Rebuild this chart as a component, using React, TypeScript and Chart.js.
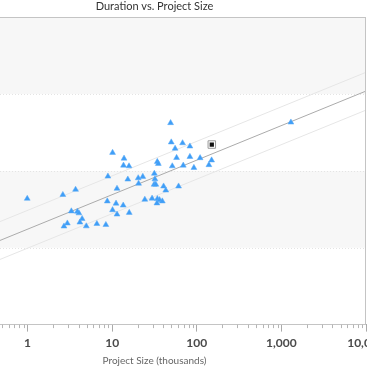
import React, { useEffect, useRef } from "react";
import { Chart, registerables } from "chart.js";

Chart.register(...registerables);

const chartTitle = "Duration vs. Project Size";
const xAxisTitle = "Project Size (thousands)";

const xTickValues = [0.1, 1, 10, 100, 1000, 10000];
const xTickLabels = ["0.1", "1", "10", "100", "1,000", "10,000"];
const yBandEdges = [1, 10, 100, 1000, 10000];

const projectSize = [
  0.99, 2.61, 3.69, 3.29, 3.87, 4.04, 4.41, 4.15, 2.95, 2.69,
  4.94, 6.59, 8.42, 8.75, 11.1, 13.5, 10.1, 11.4, 15.9, 11.4,
  8.9, 10.1, 13.8, 13.6, 15.8, 15.3, 20.3, 23.0, 20.5, 24.3,
  29.6, 34.2, 36.3, 39.1, 33.8, 31.5, 32.0, 31.3, 32.8, 40.5,
  43.0, 60.9, 34.1, 35.1, 49.0, 49.9, 67.9, 55.4, 57.7, 51.3,
  69.2, 82.9, 82.9, 109.4, 149.6, 139.0, 92.4, 1295,
];
const duration = [
  43.6, 48.9, 57.1, 29.9, 29.6, 28.2, 23.8, 21.4, 20.8, 19.0,
  19.1, 20.5, 19.9, 40.3, 37.7, 35.6, 31.0, 27.2, 28.6, 58.9,
  84.9, 172.6, 145.2, 117.8, 115.4, 77.6, 80.7, 84.1, 68.5, 42.4,
  43.8, 43.3, 41.9, 40.3, 38.0, 92.3, 78.1, 66.5, 66.5, 63.0,
  55.9, 63.0, 131.5, 124.0, 420.8, 236.0, 230.3, 195.5, 148.2, 115.4,
  117.8, 208.9, 152.7, 147.3, 137.6, 119.6, 110.0, 428.3,
];

const highlightSize = [150.4];
const highlightDuration = [220.3];

const fitSize = [0.1, 10000];
const fitDuration = [6.2, 1094];
const upperDuration = [10.9, 1919];
const lowerDuration = [3.51, 618];

const minorMultipliers = [2, 3, 4, 5, 6, 7, 8, 9];

const bandsPlugin = {
  id: "bands",
  beforeDatasetsDraw(chart: any) {
    const { ctx, chartArea, scales } = chart;
    const y = scales.y;
    ctx.save();
    ctx.fillStyle = "#ffffff";
    ctx.fillRect(chartArea.left, chartArea.top, chartArea.right - chartArea.left, chartArea.bottom - chartArea.top);
    for (let i = 0; i < yBandEdges.length - 1; i++) {
      const yTop = y.getPixelForValue(yBandEdges[i + 1]);
      const yBot = y.getPixelForValue(yBandEdges[i]);
      if (i % 2 === 1) {
        ctx.fillStyle = "#f7f7f7";
        ctx.fillRect(chartArea.left, yTop, chartArea.right - chartArea.left, yBot - yTop);
      }
    }
    ctx.strokeStyle = "#e4e4e4";
    ctx.lineWidth = 1;
    ctx.setLineDash([1, 2]);
    for (let i = 1; i < yBandEdges.length - 1; i++) {
      const py = Math.round(y.getPixelForValue(yBandEdges[i])) + 0.5;
      ctx.beginPath();
      ctx.moveTo(chartArea.left, py);
      ctx.lineTo(chartArea.right, py);
      ctx.stroke();
    }
    ctx.restore();
  },
  afterDraw(chart: any) {
    const { ctx, chartArea, scales } = chart;
    const x = scales.x;
    ctx.save();
    ctx.strokeStyle = "#c4c4c4";
    ctx.lineWidth = 1;
    ctx.strokeRect(
      Math.round(chartArea.left) + 0.5,
      Math.round(chartArea.top) + 0.5,
      Math.round(chartArea.right - chartArea.left) - 1,
      Math.round(chartArea.bottom - chartArea.top)
    );
    ctx.strokeStyle = "#b5b5b5";
    for (let d = 0; d < xTickValues.length - 1; d++) {
      for (const m of minorMultipliers) {
        const px = Math.round(x.getPixelForValue(xTickValues[d] * m)) + 0.5;
        ctx.beginPath();
        ctx.moveTo(px, chartArea.bottom);
        ctx.lineTo(px, chartArea.bottom + 3.5);
        ctx.stroke();
      }
    }
    ctx.restore();
  },
};

export default function App() {
  const canvasRef = useRef<HTMLCanvasElement | null>(null);

  useEffect(() => {
    if (!canvasRef.current) return;
    const pts = projectSize.map((s, i) => ({ x: s, y: duration[i] }));
    const chart = new Chart(canvasRef.current, {
      type: "scatter",
      data: {
        datasets: [
          {
            label: "Highlight",
            data: highlightSize.map((s, i) => ({ x: s, y: highlightDuration[i] })),
            pointStyle: "rect",
            pointRadius: 3,
            backgroundColor: "#111111",
            borderColor: "#111111",
            borderWidth: 0,
            order: 0,
          },
          {
            label: "HighlightFrame",
            data: highlightSize.map((s, i) => ({ x: s, y: highlightDuration[i] })),
            pointStyle: "rect",
            pointRadius: 5.3,
            backgroundColor: "#ffffff",
            borderColor: "#9a9a9a",
            borderWidth: 1,
            order: 1,
          },
          {
            label: "Projects",
            data: pts,
            pointStyle: "triangle",
            pointRadius: 3.4,
            backgroundColor: "#3f9ef7",
            borderColor: "#5aabf7",
            borderWidth: 0.5,
            order: 2,
          },
          {
            type: "line",
            label: "Fit",
            data: fitSize.map((s, i) => ({ x: s, y: fitDuration[i] })),
            borderColor: "#ababab",
            borderWidth: 1,
            pointRadius: 0,
            showLine: true,
            fill: false,
            order: 3,
          },
          {
            type: "line",
            label: "Upper",
            data: fitSize.map((s, i) => ({ x: s, y: upperDuration[i] })),
            borderColor: "#e6e6e6",
            borderWidth: 1,
            pointRadius: 0,
            showLine: true,
            fill: false,
            order: 4,
          },
          {
            type: "line",
            label: "Lower",
            data: fitSize.map((s, i) => ({ x: s, y: lowerDuration[i] })),
            borderColor: "#e6e6e6",
            borderWidth: 1,
            pointRadius: 0,
            showLine: true,
            fill: false,
            order: 5,
          },
        ] as any,
      },
      options: {
        animation: false,
        responsive: false,
        maintainAspectRatio: false,
        layout: { padding: { left: 25, right: 26, top: 0, bottom: 0 } },
        plugins: {
          legend: { display: false },
          tooltip: { enabled: false },
          title: {
            display: true,
            text: chartTitle,
            color: "#333333",
            font: { family: "Lato", size: 11, weight: "normal" },
            padding: { top: 0, bottom: 4 },
          },
        },
        scales: {
          x: {
            type: "logarithmic",
            min: xTickValues[0],
            max: xTickValues[xTickValues.length - 1],
            afterBuildTicks: (s: any) => {
              s.ticks = xTickValues.map((v) => ({ value: v, major: true }));
            },
            ticks: {
              autoSkip: false,
              maxRotation: 0,
              padding: 4,
              color: "#4a4a4a",
              font: { family: "Lato", size: 12, weight: "bold" },
              callback: (_v: any, i: number) => xTickLabels[i],
            },
            grid: {
              drawOnChartArea: false,
              drawTicks: true,
              tickLength: 7,
              color: "#aaaaaa",
            },
            border: { display: true, color: "#aaaaaa" },
            title: {
              display: true,
              text: xAxisTitle,
              color: "#666666",
              font: { family: "Lato", size: 10 },
              padding: { top: 1, bottom: 0 },
            },
          },
          y: {
            type: "logarithmic",
            min: yBandEdges[0],
            max: yBandEdges[yBandEdges.length - 1],
            display: false,
          },
        },
      } as any,
      plugins: [bandsPlugin],
    });
    return () => chart.destroy();
  }, []);

  return (
    <div style={{ position: "fixed", left: 0, top: 0, width: 367, height: 367, overflow: "hidden", background: "#fff" }}>
      <div style={{ position: "absolute", left: -82, top: 0, width: 474, height: 367 }}>
        <canvas ref={canvasRef} width={474} height={367} style={{ display: "block", width: 474, height: 367 }} />
      </div>
    </div>
  );
}
